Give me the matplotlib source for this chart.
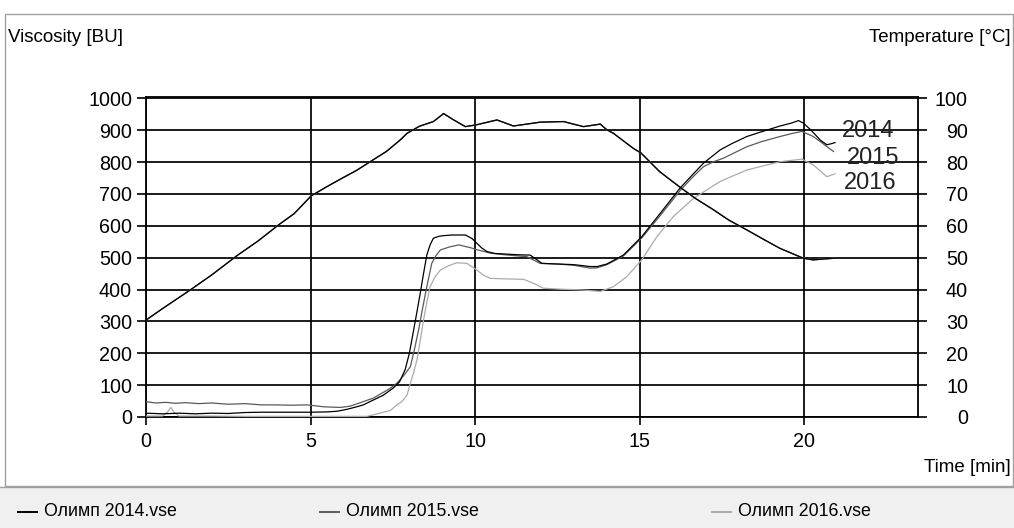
import matplotlib
matplotlib.use('Agg')
import matplotlib.pyplot as plt
from matplotlib.lines import Line2D
from matplotlib.patches import Rectangle

# ---------------- data ----------------
years = ["2014", "2015", "2016"]
legend_labels = ["Олимп 2014.vse", "Олимп 2015.vse", "Олимп 2016.vse"]
colors = ["#000000", "#5a5a5a", "#ababab"]

x_ticks = [0, 5, 10, 15, 20]
visc_ticks = list(range(0, 1001, 100))
temp_ticks = list(range(0, 101, 10))

t_2014 = [0, 0.5, 1, 1.5, 2, 2.5, 3, 3.5, 4, 4.5, 5, 5.5, 5.8, 6.1, 6.4, 6.6, 6.9, 7.2,
          7.5, 7.7, 7.87, 8.0, 8.13, 8.23, 8.33, 8.43, 8.53, 8.63, 8.73, 8.9, 9.04, 9.3,
          9.7, 9.9, 10.05, 10.2, 10.36, 10.6, 10.96, 11.3, 11.67, 11.85, 12.03, 12.5,
          13.0, 13.49, 13.7, 14.0, 14.5, 15.06, 15.62, 16.22, 16.6, 16.93, 17.44, 17.8,
          18.25, 18.7, 19.26, 19.6, 19.82, 19.97, 20.2, 20.48, 20.68, 20.8, 20.93]
visc_2014 = [12, 10, 12, 10, 12, 11, 14, 15, 15, 15, 15, 16, 18, 24, 32, 38, 53, 68,
             90, 110, 148, 200, 273, 330, 388, 450, 508, 540, 561, 567, 569, 571,
             571, 560, 545, 530, 519, 513, 511, 509, 508, 495, 482, 480,
             478, 472, 472, 480, 508, 566, 639, 718, 760, 796, 838, 858,
             880, 895, 913, 922, 930, 922, 900, 869, 854, 857, 861]

t_2015 = [0, 0.3, 0.6, 0.9, 1.2, 1.6, 2.0, 2.5, 3.0, 3.5, 3.9, 4.4, 4.9, 5.4, 5.9, 6.2,
          6.4, 6.9, 7.42, 7.62, 7.83, 8.03, 8.15, 8.28, 8.4, 8.53, 8.68, 8.8, 8.94, 9.2,
          9.5, 9.86, 10.05, 10.46, 11.0, 11.57, 11.97, 12.5, 13.0, 13.49, 13.7, 14.0,
          14.5, 15.06, 15.62, 16.22, 16.6, 16.93, 17.24, 17.54, 18.25, 18.7, 19.26,
          19.6, 19.92, 20.27, 20.6, 20.88]
visc_2015 = [48, 44, 46, 43, 45, 42, 44, 40, 42, 38, 38, 37, 38, 32, 30, 34,
             41, 59, 90, 106, 130, 158, 210, 273, 340, 409, 482, 505, 524, 533,
             540, 531, 525, 514, 508, 503, 482, 480, 476, 467, 468, 478,
             505, 562, 632, 710, 752, 785, 801, 812, 848, 864, 880,
             889, 896, 880, 855, 833]

t_2016 = [0, 0.5, 0.65, 0.75, 0.85, 1.0, 1.5, 2, 3, 4, 5, 6, 6.71, 7.1, 7.42, 7.62,
          7.77, 7.93, 8.03, 8.13, 8.23, 8.33, 8.43, 8.53, 8.63, 8.78, 8.94, 9.2, 9.44,
          9.75, 10.05, 10.25, 10.46, 11.0, 11.47, 11.8, 12.07, 12.6, 13.19, 13.8, 14.2,
          14.6, 15.06, 15.52, 16.02, 16.63, 17.44, 18.25, 19.26, 19.92, 20.27, 20.68,
          20.93]
visc_2016 = [3, 3, 15, 30, 15, 3, 3, 3, 2, 2, 2, 2, 2, 12, 20, 38,
             48, 69, 106, 140, 179, 240, 304, 360, 409, 440, 461, 475, 484,
             482, 461, 445, 435, 433, 432, 418, 404, 401, 399, 394, 409,
             440, 493, 566, 629, 686, 739, 775, 801, 809, 791, 754,
             763]

t_temp = [0, 0.5, 1.35, 2, 2.76, 3.4, 4.03, 4.5, 5.02, 5.5, 5.9, 6.4, 6.81, 7.3, 7.72,
          7.93, 8.3, 8.73, 9.04, 9.3, 9.7, 10.05, 10.66, 11.16, 11.5, 11.97, 12.68,
          13.29, 13.8, 14.0, 14.2, 14.8, 15.04, 15.6, 16.22, 16.7, 17.24, 17.7, 18.25,
          18.8, 19.26, 19.97, 20.27, 20.6, 20.88]
temp_2014 = [30.4, 34, 39.9, 44.6, 50.6, 55.2, 60.3, 63.8, 69.4, 72.3, 74.6, 77.4, 80.1,
             83.3, 86.9, 89.0, 91.2, 92.7, 95.2, 93.5, 91.1, 91.7, 93.2, 91.3, 91.8,
             92.5, 92.7, 91.1, 91.9, 90.1, 89.0, 84.3, 82.8, 77.0, 72.1, 68.5, 65.0,
             61.8, 58.7, 55.5, 52.9, 49.8, 49.3, 49.6, 49.8]
temp_2015 = list(temp_2014)
temp_2016 = list(temp_2014)

label_pos_t = [21.15, 21.3, 21.2]
label_pos_v = [898, 813, 734]

# ---------------- figure ----------------
W, H = 1014, 528
fig = plt.figure(figsize=(W / 100, H / 100), dpi=100)
fig.patch.set_facecolor('white')


def fx(px):
    return px / W


def fy(py):
    return 1 - py / H


narrow = ['Liberation Sans Narrow', 'Liberation Sans', 'DejaVu Sans']
regular = ['Liberation Sans', 'DejaVu Sans']

# legend band and outer frame
fig.patches.append(Rectangle((0, 0), 1, fy(487), transform=fig.transFigure,
                             facecolor='#f0f0f0', edgecolor='none', zorder=0))
fig.lines.append(Line2D([0, 1], [fy(486.5), fy(486.5)], transform=fig.transFigure,
                        color='#a0a0a0', lw=1.0))
fig.patches.append(Rectangle((fx(5), fy(486)), fx(1013) - fx(5), fy(14) - fy(486),
                             transform=fig.transFigure, facecolor='none',
                             edgecolor='#a0a0a0', lw=1.0, zorder=0))

ax = fig.add_axes([fx(146), fy(417), fx(918) - fx(146), fy(97) - fy(417)])
ax2 = ax.twinx()

ax.set_xlim(0, 23.45)
ax.set_ylim(0, 1004)
ax2.set_ylim(0, 100.4)

ax.set_xticks(x_ticks)
ax.set_yticks(visc_ticks)
ax2.set_yticks(temp_ticks)
ax.set_xticklabels([str(v) for v in x_ticks])
ax.set_yticklabels([str(v) for v in visc_ticks])
ax2.set_yticklabels([str(v) for v in temp_ticks])

ax.grid(True, color='black', lw=1.25)
ax.set_axisbelow(True)
for sp in ax.spines.values():
    sp.set_linewidth(1.3)
    sp.set_color('black')
for sp in ax2.spines.values():
    sp.set_visible(False)

ax.tick_params(axis='y', direction='out', length=6.5, width=1.2, pad=3.5,
               labelsize=14.2, colors='black')
ax.tick_params(axis='x', direction='out', length=5.8, width=1.2, pad=5,
               labelsize=14.2, colors='black')
ax2.tick_params(axis='y', direction='out', length=6.5, width=1.2, pad=29.5,
                labelsize=14.2, colors='black')
for lbl in ax.get_xticklabels() + ax.get_yticklabels() + ax2.get_yticklabels():
    lbl.set_family(regular)
for lbl in ax2.get_yticklabels():
    lbl.set_ha('right')

# curves: light first so black on top
times = [t_2014, t_2015, t_2016]
viscs = [visc_2014, visc_2015, visc_2016]
temps = [temp_2014, temp_2015, temp_2016]
for i in [2, 1, 0]:
    ax2.plot(t_temp, temps[i], color=colors[i], lw=0.9)
    ax2.plot(times[i], [v / 10 for v in viscs[i]], color=colors[i], lw=0.9)

for i in range(3):
    ax2.text(label_pos_t[i], label_pos_v[i] / 10, years[i], fontsize=17,
             family=regular, color='#222222', ha='left', va='center')

# axis titles
fig.text(fx(8), fy(38), 'Viscosity [BU]', ha='left', va='center', fontsize=13.5,
         family=narrow, color='black')
fig.text(fx(1011), fy(38), 'Temperature [°C]', ha='right', va='center',
         fontsize=13.5, family=narrow, color='black')
fig.text(fx(1011), fy(467), 'Time [min]', ha='right', va='center', fontsize=13.5,
         family=narrow, color='black')

# legend
leg_x = [18, 320, 712]
for i in range(3):
    fig.lines.append(Line2D([fx(leg_x[i]), fx(leg_x[i] + 19)], [fy(512), fy(512)],
                            transform=fig.transFigure, color=colors[i], lw=1.4))
    fig.text(fx(leg_x[i] + 26), fy(512), legend_labels[i], ha='left', va='center',
             fontsize=12.8, family=narrow, color='black')

fig.savefig('out.png', dpi=100)
